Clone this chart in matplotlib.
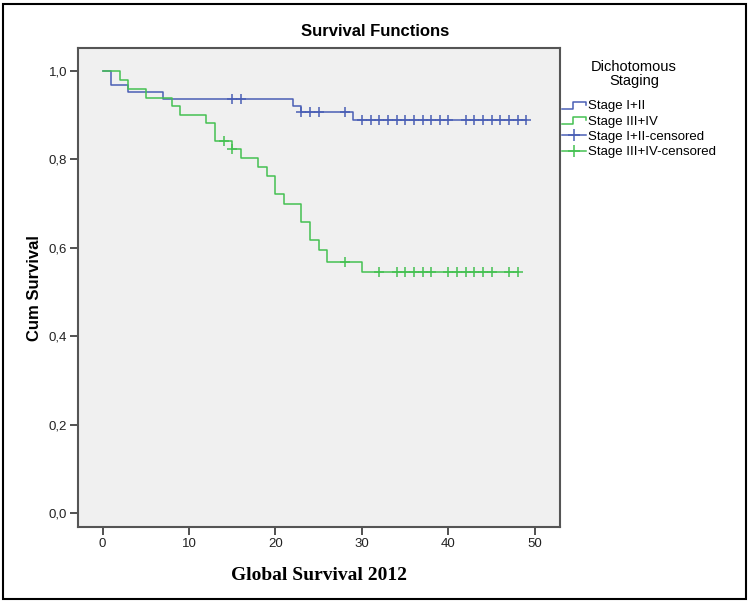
import matplotlib
matplotlib.use('Agg')
import matplotlib.pyplot as plt
import numpy as np
from matplotlib.lines import Line2D
from matplotlib.patches import Rectangle
from matplotlib.legend_handler import HandlerBase
from matplotlib.ticker import FuncFormatter

plt.rcParams['font.family'] = ['Liberation Sans', 'DejaVu Sans']

# Stage I+II : step times and survival after each step
blue_times = [0, 1, 3, 7, 22, 23, 29]
blue_surv = [1.0, 0.968, 0.952, 0.937, 0.921, 0.907, 0.889]
blue_end = 49
blue_censored = [15, 16, 23, 24, 25, 28, 30, 31, 32, 33, 34, 35, 36, 37, 38,
                 39, 40, 42, 43, 44, 45, 46, 47, 48, 49]

# Stage III+IV
green_times = [0, 2, 3, 5, 8, 9, 12, 13, 15, 16, 18, 19, 20, 21, 23, 24, 25, 26, 30]
green_surv = [1.0, 0.980, 0.959, 0.940, 0.921, 0.900, 0.882, 0.842, 0.823, 0.803,
              0.782, 0.762, 0.721, 0.699, 0.659, 0.618, 0.596, 0.569, 0.545]
green_end = 48
green_censored = [14, 15, 28, 32, 34, 35, 36, 37, 38, 40, 41, 42, 43, 44, 45, 47, 48]

x_ticks = [0, 10, 20, 30, 40, 50]
y_ticks = [0.0, 0.2, 0.4, 0.6, 0.8, 1.0]

BLUE = '#4a5fb5'
GREEN = '#45c152'


def surv_at(times, surv, t):
    idx = np.searchsorted(times, t, side='right') - 1
    return surv[idx]


class StepHandler(HandlerBase):
    def create_artists(self, legend, orig_handle, xdescent, ydescent,
                       width, height, fontsize, trans):
        x0, y0 = -xdescent, -ydescent
        xs = [x0, x0 + 0.45 * width, x0 + 0.45 * width, x0 + width, x0 + width]
        ys = [y0 + 0.05 * height, y0 + 0.05 * height, y0 + 0.8 * height,
              y0 + 0.8 * height, y0 + 0.5 * height]
        return [Line2D(xs, ys, color=orig_handle.get_color(),
                       lw=orig_handle.get_linewidth(), transform=trans)]


fig = plt.figure(figsize=(7.5, 6.03), dpi=100)
ax = fig.add_axes([0.1044, 0.1255, 0.6423, 0.7949])
ax.set_facecolor('#f0f0f0')

handles = []
for times, surv, end, cens, col in [
        (blue_times, blue_surv, blue_end, blue_censored, BLUE),
        (green_times, green_surv, green_end, green_censored, GREEN)]:
    xs = list(times) + [end]
    ys = list(surv) + [surv[-1]]
    ln, = ax.step(xs, ys, where='post', color=col, lw=1.1)
    cy = [surv_at(times, surv, t) for t in cens]
    ax.plot(cens, cy, linestyle='none', marker='+', markersize=7,
            markeredgewidth=1.1, color=col)
    handles.append(ln)

ax.set_xlim(-2.8, 52.9)
ax.set_ylim(-0.032, 1.052)
ax.set_xticks(x_ticks)
ax.set_yticks(y_ticks)
ax.yaxis.set_major_formatter(FuncFormatter(lambda v, p: f"{v:.1f}".replace('.', ',')))
ax.tick_params(direction='out', length=6, width=1.2, color='#333333',
               labelsize=9.5, labelcolor='#222222', pad=2)
for s in ax.spines.values():
    s.set_color('#555555')
    s.set_linewidth(1.5)

ax.set_ylabel('Cum Survival', fontsize=12, fontweight='bold', labelpad=5)
ax.set_xlabel('Global Survival 2012', fontsize=14, fontweight='bold',
              family=['Liberation Serif', 'DejaVu Serif'], labelpad=12)
fig.text(0.5, 1 - 32 / 603, 'Survival Functions', ha='center', va='center',
         fontsize=12, fontweight='bold')

fig.text(634 / 750, 1 - 74 / 603, 'Dichotomous\nStaging', ha='center', va='center',
         fontsize=10.5, linespacing=1.0)

cens_blue = Line2D([], [], color=BLUE, marker='+', markersize=9, lw=1.1, mew=1.1)
cens_green = Line2D([], [], color=GREEN, marker='+', markersize=9, lw=1.1, mew=1.1)
leg = fig.legend(handles + [cens_blue, cens_green],
                 ['Stage I+II', 'Stage III+IV', 'Stage I+II-censored', 'Stage III+IV-censored'],
                 loc='upper left', bbox_to_anchor=(562 / 750, 1 - 100 / 603),
                 frameon=False, fontsize=9.5, handlelength=1.8, handletextpad=0.15,
                 labelspacing=0.24, borderpad=0, borderaxespad=0, numpoints=1,
                 handler_map={handles[0]: StepHandler(), handles[1]: StepHandler()})

fig.add_artist(Rectangle((3 / 750, 4 / 603), 743 / 750, 595 / 603,
                         transform=fig.transFigure, fill=False,
                         edgecolor='black', lw=1.5))

fig.savefig('out.png', dpi=100)
